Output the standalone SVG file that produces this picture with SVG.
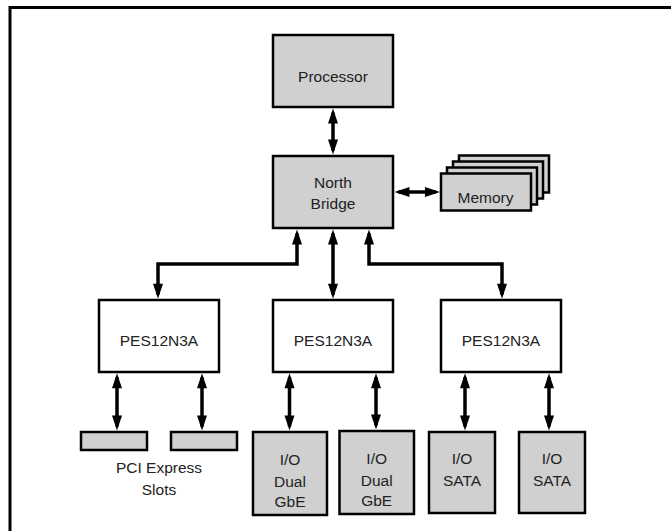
<svg xmlns="http://www.w3.org/2000/svg" width="671" height="531" viewBox="0 0 671 531">
<style>
.box{fill:#d0d0d0;stroke:#000;stroke-width:2.5}
.wbox{fill:#fff;stroke:#000;stroke-width:2.5}
.lbl{font-family:"Liberation Sans",Arial,sans-serif;font-size:15.5px;fill:#222;text-anchor:middle}
.con{fill:none;stroke:#000;stroke-width:3.5;marker-start:url(#ah);marker-end:url(#ah)}
</style>
<defs>
<marker id="ah" markerUnits="userSpaceOnUse" markerWidth="16" markerHeight="10" refX="11" refY="5" orient="auto-start-reverse" overflow="visible">
<path d="M0,0 L15,5 L0,10 z" fill="#000"/>
</marker>
</defs>
<rect width="671" height="531" fill="#fff"/>
<g id="frame">
<path d="M8.5,7.5 H671 M10,6 V531" fill="none" stroke="#000" stroke-width="3"/>
</g>
<g id="connectors">
<path class="con" d="M333,112.5 V150.5"/>
<path class="con" d="M398.5,192 H436"/>
<path class="con" d="M297,233.5 V264 H158 V294.75"/>
<path class="con" d="M333,233.5 V294.75"/>
<path class="con" d="M369,233.5 V264 H502 V294.75"/>
<path class="con" d="M117,377.25 V426.5"/>
<path class="con" d="M202,377.25 V426.5"/>
<path class="con" d="M289.5,377.25 V426.5"/>
<path class="con" d="M376,377.25 V425.5"/>
<path class="con" d="M465,377.25 V426.5"/>
<path class="con" d="M549,377.25 V426.5"/>
</g>
<g id="processor">
<rect class="box" x="273" y="35" width="120" height="72"/>
<text class="lbl" x="333" y="81.5">Processor</text>
</g>
<g id="northbridge">
<rect class="box" x="273" y="156" width="120" height="72"/>
<text class="lbl" x="333" y="188.3">North</text>
<text class="lbl" x="333" y="209.3">Bridge</text>
</g>
<g id="memory">
<rect class="box" x="459" y="155.5" width="90" height="37"/>
<rect class="box" x="453" y="161.5" width="90" height="37"/>
<rect class="box" x="447" y="167.5" width="90" height="37"/>
<rect class="box" x="441" y="173.5" width="90" height="37"/>
<text class="lbl" x="485.5" y="203.3">Memory</text>
</g>
<g id="pes1">
<rect class="wbox" x="99" y="300" width="120" height="72"/>
<text class="lbl" x="159" y="346">PES12N3A</text>
</g>
<g id="pes2">
<rect class="wbox" x="273" y="300" width="120" height="72"/>
<text class="lbl" x="333" y="346">PES12N3A</text>
</g>
<g id="pes3">
<rect class="wbox" x="441" y="300" width="120" height="72"/>
<text class="lbl" x="501" y="346">PES12N3A</text>
</g>
<g id="pcislots">
<rect class="box" x="81" y="432" width="66" height="18"/>
<rect class="box" x="171" y="432" width="66" height="18"/>
<text class="lbl" x="159" y="473.3">PCI Express</text>
<text class="lbl" x="159" y="495">Slots</text>
</g>
<g id="gbe1">
<rect class="box" x="253" y="432" width="74" height="83"/>
<text class="lbl" x="290" y="465">I/O</text>
<text class="lbl" x="290" y="486.7">Dual</text>
<text class="lbl" x="290" y="506.7">GbE</text>
</g>
<g id="gbe2">
<rect class="box" x="339.5" y="431" width="74.5" height="83"/>
<text class="lbl" x="376.7" y="464">I/O</text>
<text class="lbl" x="376.7" y="485.7">Dual</text>
<text class="lbl" x="376.7" y="505.7">GbE</text>
</g>
<g id="sata1">
<rect class="box" x="429" y="432" width="66" height="81"/>
<text class="lbl" x="462" y="464">I/O</text>
<text class="lbl" x="462" y="486">SATA</text>
</g>
<g id="sata2">
<rect class="box" x="519" y="432" width="66" height="81"/>
<text class="lbl" x="552" y="464">I/O</text>
<text class="lbl" x="552" y="486">SATA</text>
</g>
</svg>
